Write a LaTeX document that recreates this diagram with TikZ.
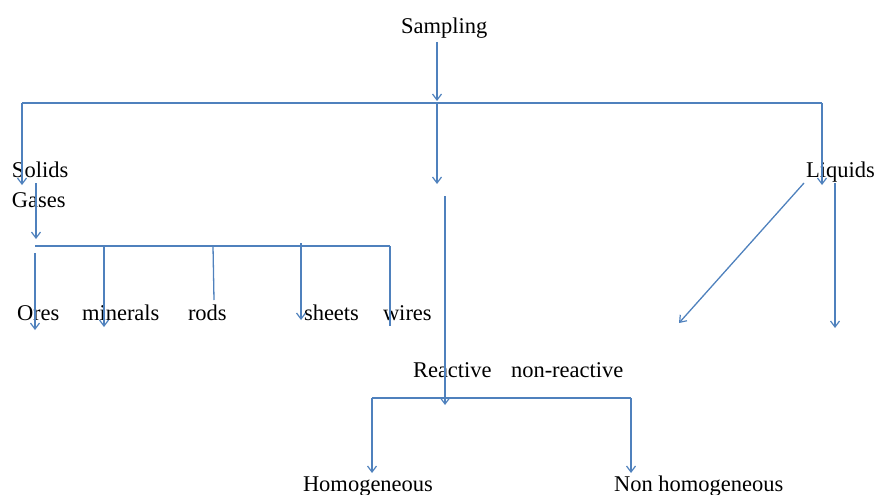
\documentclass[tikz,border=0pt]{standalone}
\usepackage{fontspec}
\setmainfont{Liberation Serif}
\usetikzlibrary{arrows.meta}
\definecolor{linkblue}{HTML}{4F81BD}
\tikzset{
  lbl/.style={anchor=base west, inner sep=0pt, outer sep=0pt, font=\fontsize{22.5}{29}\selectfont},
  link/.style={draw=linkblue, line width=1.3pt},
  arr/.style={link, -{Straight Barb[length=6pt, width=9pt, line width=1.2pt]}},
}
\begin{document}
\begin{tikzpicture}[x=1pt, y=-1pt]
\useasboundingbox (0,0) rectangle (876,495);

% labels
\node[lbl] (samp) at (401,34) {Sampling};
\node[lbl] (sol)  at (12,177) {Solids};
\node[lbl] (gas)  at (12,207) {Gases};
\node[lbl] (liq)  at (806,177) {Liquids};
\node[lbl] (ore)  at (17,320) {Ores};
\node[lbl] (min)  at (82,320) {minerals};
\node[lbl] (rod)  at (188,320) {rods};
\node[lbl] (she)  at (304,320) {sheets};
\node[lbl] (wir)  at (383,320) {wires};
\node[lbl] (rea)  at (413,377) {Reactive};
\node[lbl] (nre)  at (511,377) {non-reactive};
\node[lbl] (hom)  at (303,491) {Homogeneous};
\node[lbl] (nho)  at (614,491) {Non homogeneous};

% top branching
\coordinate (s0) at (437,42);
\coordinate (s1) at (437,101);
\coordinate (bl) at (22,103);
\coordinate (bm) at (437,103);
\coordinate (br) at (822,103);
\coordinate (tsol) at (22,185);
\coordinate (tmid) at (437,184);
\coordinate (tliq) at (822,185);
\draw[arr] (s0) -- (s1);
\draw[link] (bl) -- (br);
\draw[arr] (bl) -- (tsol);
\draw[arr] (br) -- (tliq);
\draw[arr] (bm) -- (tmid);

% middle column down to the reactive split
\coordinate (m0) at (445,196);
\coordinate (m1) at (445,405);
\draw[arr] (m0) -- (m1);

% solids / gases branch
\coordinate (g0) at (36,183);
\coordinate (g1) at (36,239);
\draw[arr] (g0) -- (g1);
\coordinate (hl) at (35,246);
\coordinate (hr) at (390,246);
\draw[link] (hl) -- (hr);
\coordinate (o0) at (35,253);
\coordinate (o1) at (35,330);
\coordinate (mi0) at (104,246);
\coordinate (mi1) at (104,327);
\coordinate (r0) at (213,246);
\coordinate (r1) at (214,300);
\coordinate (sh0) at (301,243);
\coordinate (sh1) at (301,320);
\coordinate (w0) at (390,246);
\coordinate (w1) at (390,326);
\draw[arr] (o0) -- (o1);
\draw[arr] (mi0) -- (mi1);
\draw[link] (r0) -- (r1);
\draw[arr] (sh0) -- (sh1);
\draw[link] (w0) -- (w1);

% liquids branch
\coordinate (l0) at (804,183);
\coordinate (l1) at (679,323);
\coordinate (l2) at (835,183);
\coordinate (l3) at (835,328);
\draw[arr] (l0) -- (l1);
\draw[arr] (l2) -- (l3);

% homogeneous split
\coordinate (hl2) at (372,398);
\coordinate (hr2) at (631,398);
\coordinate (hh) at (372,473);
\coordinate (hn) at (631,473);
\draw[link] (hl2) -- (hr2);
\draw[arr] (hl2) -- (hh);
\draw[arr] (hr2) -- (hn);
\end{tikzpicture}
\end{document}
